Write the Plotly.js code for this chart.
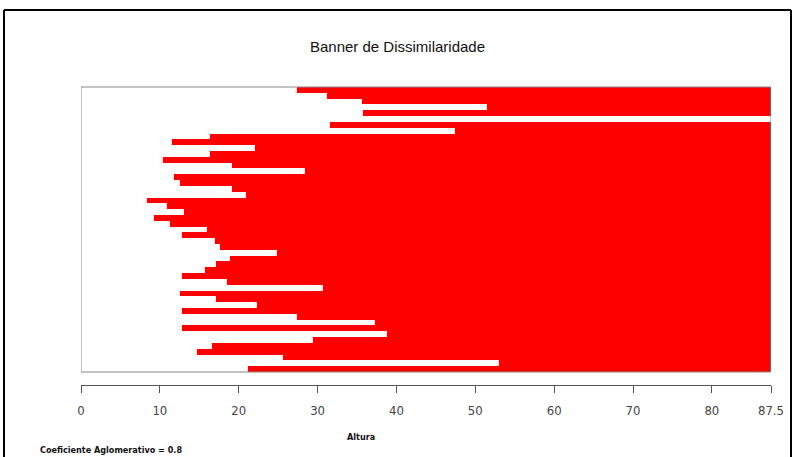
<!DOCTYPE html>
<html>
<head>
<meta charset="utf-8">
<script src="https://cdn.plot.ly/plotly-3.0.1.min.js"></script>
<style>html,body{margin:0;padding:0;background:#fff;}#chart{width:795px;height:457px;}</style>
</head>
<body>
<div id="chart"></div>
<script>
// Merge heights of each banner row, top to bottom
const heights = [27.4, 31.2, 35.6, 51.5, 35.8, 87.5, 31.6, 47.4, 16.4, 11.5,
                 22.1, 16.4, 10.4, 19.1, 28.4, 11.8, 12.6, 19.1, 20.9, 8.4,
                 10.9, 13.1, 9.2, 11.3, 16.0, 12.8, 17.0, 17.6, 24.9, 18.9,
                 17.1, 15.7, 12.8, 18.5, 30.7, 12.6, 17.1, 22.3, 12.8, 27.4,
                 37.3, 12.8, 38.8, 29.4, 16.6, 14.7, 25.6, 53.0, 21.2];
const maxHeight = 87.5;
const tickVals = [0, 10, 20, 30, 40, 50, 60, 70, 80, 87.5];
const tickText = ["0", "10", "20", "30", "40", "50", "60", "70", "80", "87.5"];
const titleText = "Banner de Dissimilaridade";
const xTitle = "Altura";
const coefText = "Coeficiente Aglomerativo = 0.8";

const rowIdx = heights.map((h, i) => i);
const narrow = "Liberation Sans Narrow, DejaVu Sans Condensed, Arial Narrow, sans-serif";

// pixel helpers (plot area: x 81..771, y 87..385)
const L = 81, R = 771, T = 87, B = 385;
const px = p => (p - L) / (R - L);
const py = p => (B - p) / (B - T);
const boxBottom = py(372);

const trace = {
  type: "bar",
  orientation: "h",
  y: rowIdx,
  base: heights,
  x: heights.map(h => maxHeight - h),
  width: 1,
  marker: {color: "#ff0000", line: {width: 0}},
  hoverinfo: "skip"
};

const layout = {
  width: 795, height: 457,
  margin: {l: L, r: 795 - R, t: T, b: 457 - B, pad: 0},
  paper_bgcolor: "#fff", plot_bgcolor: "#fff",
  showlegend: false,
  bargap: 0,
  title: {text: titleText, x: 0.5, xanchor: "center", y: 1 - 47/457, yanchor: "middle",
          font: {family: "Liberation Sans, Arial, sans-serif", size: 15, color: "#111"}},
  xaxis: {
    range: [0, maxHeight], anchor: "free", position: 0,
    showgrid: false, zeroline: false,
    showline: true, linecolor: "#555", linewidth: 1,
    ticks: "outside", ticklen: 7, tickcolor: "#555", tickwidth: 1,
    tickvals: tickVals, ticktext: tickText, ticklabelstandoff: 6,
    tickfont: {family: narrow, size: 13, color: "#444"},
    title: {text: ""}
  },
  yaxis: {
    domain: [boxBottom, 1],
    range: [heights.length - 0.5, -0.5],
    visible: false, showgrid: false, zeroline: false
  },
  shapes: [
    {type: "rect", xref: "x", yref: "paper", x0: 0, x1: maxHeight, y0: boxBottom, y1: 1,
     line: {color: "#888", width: 1}, fillcolor: "rgba(0,0,0,0)"},
    {type: "line", xref: "paper", yref: "paper", x0: px(4), x1: px(4), y0: py(10), y1: py(470),
     line: {color: "#000", width: 2}},
    {type: "line", xref: "paper", yref: "paper", x0: px(4), x1: px(791), y0: py(10), y1: py(10),
     line: {color: "#000", width: 2}},
    {type: "line", xref: "paper", yref: "paper", x0: px(791), x1: px(791), y0: py(10), y1: py(470),
     line: {color: "#000", width: 2}}
  ],
  annotations: [
    {text: "<b>" + xTitle + "</b>", xref: "paper", yref: "paper", x: px(361), y: py(437),
     xanchor: "center", yanchor: "middle", showarrow: false,
     font: {family: narrow, size: 9, color: "#111"}},
    {text: "<b>" + coefText + "</b>", xref: "paper", yref: "paper", x: px(38), y: py(450),
     xanchor: "left", yanchor: "middle", showarrow: false,
     font: {family: narrow, size: 9, color: "#111"}}
  ]
};

Plotly.newPlot("chart", [trace], layout, {displayModeBar: false, staticPlot: true});
</script>
</body>
</html>
